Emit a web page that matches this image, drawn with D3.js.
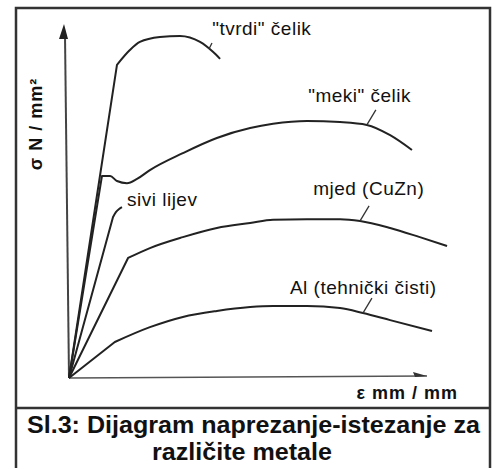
<!DOCTYPE html>
<html lang="hr">
<head>
  <meta charset="UTF-8" />
  <title>Dijagram naprezanje-istezanje</title>
  <style>
    html, body { margin: 0; padding: 0; background: #fff; }
    svg { display: block; }
    .lbl { font-family: "Liberation Sans", Arial, sans-serif; font-size: 19px; letter-spacing: 0.5px; fill: #111; }
    .axlbl { font-family: "Liberation Sans", Arial, sans-serif; font-size: 18px; font-weight: bold; letter-spacing: 1px; fill: #111; }
    .cap { font-family: "Liberation Sans Narrow", "Liberation Sans", Arial, sans-serif; font-size: 24px; font-weight: bold; fill: #111; }
  </style>
</head>
<body>
  <div id="chart"></div>
  <script src="https://cdn.jsdelivr.net/npm/d3@7"></script>
  <script>
    // Strain (eps) / stress (sig) points, arbitrary units 0..100
    const tvrdiEps = [0, 13.4, 17.0, 19.8, 25.4, 31.0, 36.6, 40.2, 42.2];
    const tvrdiSig = [0, 88.7, 92.9, 95.2, 96.6, 96.9, 95.2, 92.4, 90.4];

    const mekiEps = [0, 9.2, 11.5, 13.4, 16.2, 19.0, 22.6, 31.8, 41.3, 50.6, 57.0, 66.5, 75.7, 83.2, 89.7, 95.8];
    const mekiSig = [0, 57.2, 57.2, 55.8, 55.2, 56.4, 58.9, 63.7, 68.0, 70.8, 72.0, 72.8, 72.5, 71.7, 68.8, 64.6];

    const siviEps = [0, 12.3, 13.1, 14.0, 14.8];
    const siviSig = [0, 45.6, 47.0, 47.9, 48.4];

    const mjedEps = [0, 16.5, 22.6, 31.8, 41.3, 50.6, 57.0, 66.5, 75.7, 81.3, 89.7, 98.0, 105.6];
    const mjedSig = [0, 34.0, 36.8, 39.9, 42.5, 43.9, 44.8, 45.0, 45.0, 44.5, 42.5, 39.9, 37.4];

    const alEps = [0, 12.8, 22.6, 31.8, 41.3, 50.6, 57.0, 66.5, 75.7, 82.1, 89.7, 101.4];
    const alSig = [0, 10.2, 14.4, 17.3, 19.0, 20.1, 20.4, 20.4, 19.8, 18.4, 16.4, 13.3];

    // Material names, where the leader touches the curve, and where the label sits
    const names = ['"tvrdi" čelik', '"meki" čelik', 'sivi lijev', 'mjed (CuZn)', 'Al (tehnički čisti)'];
    const leaderEps = [39.1, 83.2, null, 81.3, 82.1];
    const leaderSig = [93.2, 71.7, null, 44.5, 18.4];
    const labelEps = [40.0, 66.8, 16.2, 68.2, 61.7];
    const labelSig = [97.2, 78.2, 48.7, 51.8, 23.8];

    const width = 493, height = 468;

    const svg = d3.select("#chart").append("svg")
      .attr("width", width)
      .attr("height", height);

    // Outer frame and caption separator
    svg.append("path")
      .attr("d", "M16,470 L16,8 L490,8 L490,470")
      .attr("fill", "none")
      .attr("stroke", "#333")
      .attr("stroke-width", 2.5);
    svg.append("line")
      .attr("x1", 16).attr("x2", 490)
      .attr("y1", 408).attr("y2", 408)
      .attr("stroke", "#333")
      .attr("stroke-width", 2.5);

    // Scales
    const x = d3.scaleLinear().domain([0, 100]).range([69, 427]);
    const y = d3.scaleLinear().domain([0, 100]).range([378, 25]);

    // Axes (plain arrows, no ticks)
    svg.append("line")
      .attr("x1", x(0)).attr("y1", y(0))
      .attr("x2", x(0) - 4).attr("y2", y(100) + 10)
      .attr("stroke", "#444").attr("stroke-width", 2);
    svg.append("path")
      .attr("d", `M${x(0) - 5},${y(100) - 1} L${x(0) - 10},${y(100) + 14} L${x(0) - 1},${y(100) + 14} Z`)
      .attr("fill", "#222");

    svg.append("line")
      .attr("x1", x(0)).attr("y1", y(0))
      .attr("x2", x(100)).attr("y2", y(0) - 2)
      .attr("stroke", "#555").attr("stroke-width", 1.6);
    svg.append("path")
      .attr("d", `M${x(100)},${y(0) - 2} L${x(100) - 14},${y(0) - 6} L${x(100) - 12},${y(0) - 1} Z`)
      .attr("fill", "#333");

    // Curves: straight elastic part, smooth plastic part
    const series = [
      [tvrdiEps, tvrdiSig],
      [mekiEps, mekiSig],
      [siviEps, siviSig],
      [mjedEps, mjedSig],
      [alEps, alSig]
    ];

    const smooth = d3.line()
      .x(d => x(d[0]))
      .y(d => y(d[1]))
      .curve(d3.curveMonotoneX);

    series.forEach(([eps, sig]) => {
      const pts = eps.map((e, i) => [e, sig[i]]);
      const elastic = `M${x(pts[0][0])},${y(pts[0][1])}L${x(pts[1][0])},${y(pts[1][1])}`;
      const plastic = smooth(pts.slice(1)).replace(/^M/, "L");
      svg.append("path")
        .attr("d", elastic + plastic)
        .attr("fill", "none")
        .attr("stroke", "#222")
        .attr("stroke-width", 2)
        .attr("stroke-linejoin", "round");
    });

    // Leader ticks and labels
    names.forEach((name, i) => {
      if (leaderEps[i] !== null) {
        svg.append("line")
          .attr("x1", x(leaderEps[i])).attr("y1", y(leaderSig[i]))
          .attr("x2", x(leaderEps[i]) + (i === 0 ? 3 : 9))
          .attr("y2", y(leaderSig[i]) - (i === 0 ? 6 : 15))
          .attr("stroke", "#333").attr("stroke-width", 1.3);
      }
      svg.append("text")
        .attr("class", "lbl")
        .attr("x", x(labelEps[i]))
        .attr("y", y(labelSig[i]))
        .text(name);
    });

    // Axis labels
    svg.append("text")
      .attr("class", "axlbl")
      .attr("transform", `translate(42,124) rotate(-90)`)
      .attr("text-anchor", "middle")
      .text("σ  N / mm²");
    svg.append("text")
      .attr("class", "axlbl")
      .attr("x", 458).attr("y", 399)
      .attr("text-anchor", "end")
      .text("ε  mm / mm");

    // Caption (condensed to the width of the original)
    svg.append("text")
      .attr("class", "cap")
      .attr("x", 27).attr("y", 433)
      .attr("textLength", 453)
      .attr("lengthAdjust", "spacingAndGlyphs")
      .text("Sl.3: Dijagram naprezanje-istezanje za");
    svg.append("text")
      .attr("class", "cap")
      .attr("x", 152).attr("y", 460)
      .attr("textLength", 180)
      .attr("lengthAdjust", "spacingAndGlyphs")
      .text("različite metale");
  </script>
</body>
</html>
